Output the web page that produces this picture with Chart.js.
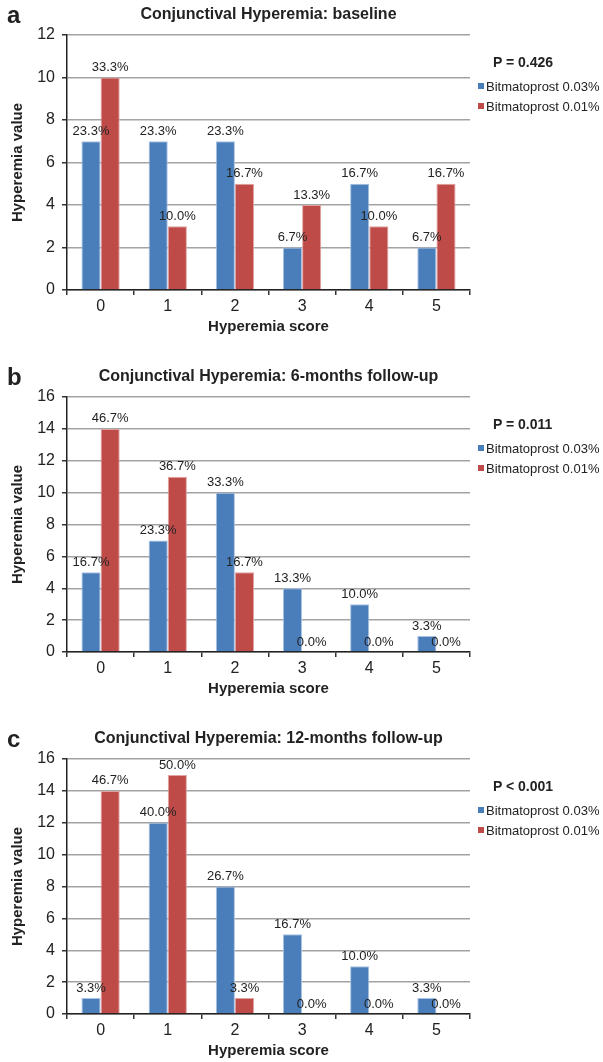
<!DOCTYPE html>
<html lang="en">
<head>
<meta charset="UTF-8">
<title>Conjunctival Hyperemia</title>
<script src="https://cdn.jsdelivr.net/npm/chart.js"></script>
<style>
  body { margin: 0; background: #fff; overflow: hidden; }
  #page { position: relative; width: 603px; height: 1062px; font-family: "Liberation Sans", Arial, sans-serif; color: #222; }
  .panel { position: absolute; left: 0; width: 603px; height: 362px; }
  .panel canvas { position: absolute; left: 0; top: 0; }
  .letter { position: absolute; left: 7px; top: 3px; font-size: 24px; line-height: 24px; font-weight: bold; }
  .title { position: absolute; left: 67px; width: 403px; top: 6px; text-align: center; font-size: 16px; line-height: 16px; font-weight: bold; }
  .pval { position: absolute; left: 493px; top: 55px; font-size: 14px; line-height: 14px; font-weight: bold; }
  .leg { position: absolute; left: 478px; font-size: 13px; line-height: 14px; white-space: nowrap; }
  .leg i { display: inline-block; width: 6px; height: 6px; margin-right: 2px; vertical-align: 2px; }
</style>
</head>
<body>
<div id="page"></div>

<script>
// data (n = 30 eyes per group)
var scores = ['0', '1', '2', '3', '4', '5'];
var n_por_grupo = 30;
var serie_nomes = ['Bitmatoprost 0.03%', 'Bitmatoprost 0.01%'];
var cores = ['#4a7ebb', '#be4b48'];
var bordas = ['#a9c1e2', '#e0a3a1'];

var letras = ['a', 'b', 'c'];
var titulos = [
  'Conjunctival Hyperemia: baseline',
  'Conjunctival Hyperemia: 6-months follow-up',
  'Conjunctival Hyperemia: 12-months follow-up'
];
var p_valores = ['P = 0.426', 'P = 0.011', 'P < 0.001'];
var y_max = [12, 16, 16];

var base_003 = [7, 7, 7, 2, 5, 2];
var base_001 = [10, 3, 5, 4, 3, 5];
var seis_003 = [5, 7, 10, 4, 3, 1];
var seis_001 = [14, 11, 5, 0, 0, 0];
var doze_003 = [1, 12, 8, 5, 3, 1];
var doze_001 = [14, 15, 1, 0, 0, 0];

var dados = [[base_003, base_001], [seis_003, seis_001], [doze_003, doze_001]];

var fonte = '"Liberation Sans", Arial, sans-serif';

// percent labels over each bar
var rotulos = {
  id: 'rotulos',
  afterDatasetsDraw(chart) {
    var ctx = chart.ctx;
    ctx.save();
    ctx.font = '13px ' + fonte;
    ctx.fillStyle = '#222';
    ctx.textAlign = 'center';
    ctx.textBaseline = 'middle';
    chart.data.datasets.forEach(function (ds, d) {
      chart.getDatasetMeta(d).data.forEach(function (bar, i) {
        var txt = (ds.data[i] / n_por_grupo * 100).toFixed(1) + '%';
        ctx.fillText(txt, bar.x, bar.y - 10);
      });
    });
    ctx.restore();
  }
};

var page = document.getElementById('page');

for (var k = 0; k < 3; k++) {
  var painel = document.createElement('div');
  painel.className = 'panel';
  painel.style.top = (k * 362) + 'px';
  painel.innerHTML =
    '<canvas width="603" height="362"></canvas>' +
    '<div class="letter">' + letras[k] + '</div>' +
    '<div class="title">' + titulos[k] + '</div>' +
    '<div class="pval">' + p_valores[k] + '</div>' +
    '<div class="leg" style="top:80px"><i style="background:' + cores[0] + '"></i>' + serie_nomes[0] + '</div>' +
    '<div class="leg" style="top:100px"><i style="background:' + cores[1] + '"></i>' + serie_nomes[1] + '</div>';
  page.appendChild(painel);

  var ctx = painel.querySelector('canvas');
  new Chart(ctx, {
    type: 'bar',
    data: {
      labels: scores,
      datasets: [0, 1].map(function (s) {
        return {
          label: serie_nomes[s],
          data: dados[k][s],
          backgroundColor: cores[s],
          borderColor: bordas[s],
          borderWidth: 1,
          borderSkipped: 'bottom',
          categoryPercentage: 0.57,
          barPercentage: 1.0
        };
      })
    },
    options: {
      responsive: false,
      animation: false,
      layout: { padding: { top: 35, right: 133, left: 0, bottom: 0 } },
      scales: {
        x: {
          afterFit: function (s) { s.height = 72; },
          grid: { display: true, drawOnChartArea: false, drawTicks: true, tickLength: 5, color: '#333', lineWidth: 1.5, offset: true },
          border: { display: true, color: '#222', width: 1.5 },
          ticks: { color: '#222', padding: 2, font: { size: 16, family: fonte } },
          title: { display: true, text: 'Hyperemia score', color: '#222', padding: { top: 0, bottom: 26 }, font: { size: 15, weight: 'bold', family: fonte } }
        },
        y: {
          min: 0,
          max: y_max[k],
          afterFit: function (s) { s.width = 67; },
          grid: { color: '#a3a3a3', lineWidth: 1.5, tickLength: 5, tickColor: '#333' },
          border: { display: true, color: '#222', width: 1.5 },
          ticks: { stepSize: 2, color: '#222', padding: 7, font: { size: 16, family: fonte } },
          title: { display: true, text: 'Hyperemia value', color: '#222', padding: { top: 9, bottom: 0 }, font: { size: 15, weight: 'bold', family: fonte } }
        }
      },
      plugins: {
        legend: { display: false },
        tooltip: { enabled: false }
      }
    },
    plugins: [rotulos]
  });
}
</script>
</body>
</html>
